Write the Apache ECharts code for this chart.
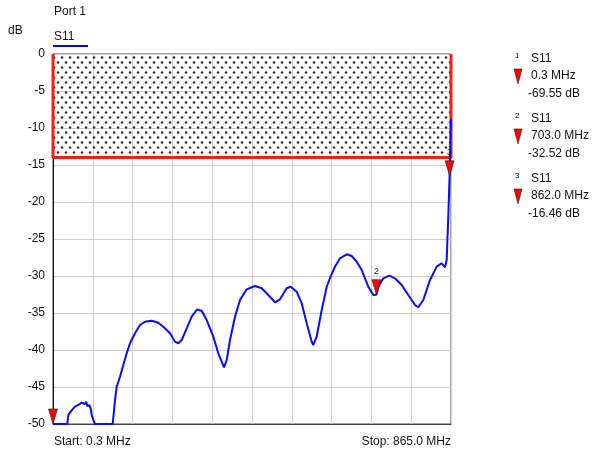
<!DOCTYPE html>
<html>
<head>
<meta charset="utf-8">
<script src="https://cdn.jsdelivr.net/npm/echarts@6/dist/echarts.min.js"></script>
<style>
  html, body { margin: 0; padding: 0; background: #fff; }
  #chart { width: 594px; height: 457px; }
</style>
</head>
<body>
<div id="chart"></div>
<script>
// sweep S11 trace, frequency in MHz / return loss in dB (display clamps at -50)
var traceFreq = [0.3, 31.4, 33.5, 37.2, 41.6, 44.5, 48.1, 51.0, 55.3, 58.5, 62.7, 66.0, 69.8, 72.5, 74.8, 79.2, 82.2, 84.4, 87.9, 91.5,
  130.0, 135.0, 138.7, 145.9, 153.0, 160.4, 167.6, 178.5, 189.3, 200.2, 214.7, 229.1, 243.6, 254.5, 265.4, 272.5, 279.9, 290.8, 301.6,
  313.1, 323.4, 334.2, 348.6, 359.4, 366.8, 371.8, 377.7, 384.9, 395.7, 406.6, 421.1, 439.2, 453.7, 468.1, 482.6, 493.5, 508.0, 516.7,
  529.8, 540.6, 551.5, 562.4, 565.8, 573.2, 584.1, 595.0, 602.1, 613.0, 623.8, 638.4, 649.3, 660.1, 671.0, 678.1, 685.3, 696.2, 703.0,
  707.4, 718.0, 731.0, 743.3, 757.9, 772.2, 786.8, 794.0, 804.8, 819.4, 833.9, 844.8, 852.0, 855.6, 859.1, 862.0, 865.0];
var traceDb = [-50, -50, -48.8, -48.55, -48.1, -48.3, -47.66, -47.8, -47.43, -47.6, -47.12, -47.3, -47.3, -47.0, -47.57, -47.47, -47.88, -48.78, -49.46, -50,
  -50, -46.76, -44.96, -43.61, -42.03, -40.45, -39.09, -37.74, -36.62, -36.18, -36.04, -36.31, -37.07, -37.74, -38.88, -39.09, -38.65, -37.07, -35.5,
  -34.53, -34.69, -35.95, -38.2, -40.45, -41.58, -42.34, -41.35, -38.65, -35.5, -33.24, -31.8, -31.35, -31.66, -32.57, -33.55, -33.15, -31.66, -31.45,
  -32.12, -33.69, -36.39, -38.88, -39.32, -38.2, -34.59, -31.45, -30.27, -28.74, -27.61, -27.07, -27.3, -28.07, -29.19, -30.31, -31.45, -32.57, -32.52,
  -31.45, -30.31, -29.96, -30.31, -31.22, -32.57, -33.92, -34.23, -33.24, -30.54, -28.74, -28.28, -28.82, -27.84, -21.99, -16.46, -8.78];

// limit line (upper limit -14 dB over the whole span)
var limitFreq = [0.3, 0.3, 865.0, 865.0];
var limitDb = [0, -14, -14, 0];

// markers
var markerNo = ['1', '2', '3'];
var markerFreq = [0.3, 703.0, 862.0];
var markerDb = [-69.55, -32.52, -16.46];
var markerFreqText = ['0.3 MHz', '703.0 MHz', '862.0 MHz'];
var markerDbText = ['-69.55 dB', '-32.52 dB', '-16.46 dB'];

var yTicks = [0, -5, -10, -15, -20, -25, -30, -35, -40, -45, -50];
var startFreq = 0.3, stopFreq = 865.0;

var FONT = '"Liberation Sans", Arial, sans-serif';

// dotted fill for the limit area
var pat = document.createElement('canvas');
pat.width = 8; pat.height = 10;
var pc = pat.getContext('2d');
pc.fillStyle = '#2a2a2a';
pc.beginPath(); pc.arc(2, 2.5, 1.25, 0, Math.PI * 2); pc.fill();
pc.beginPath(); pc.arc(6, 7.5, 1.25, 0, Math.PI * 2); pc.fill();

var chart = echarts.init(document.getElementById('chart'), null, { renderer: 'canvas' });

var trace = traceFreq.map(function (f, i) { return [f, traceDb[i]]; });
var limit = limitFreq.map(function (f, i) { return [f, limitDb[i]]; });
var markers = markerFreq.map(function (f, i) { return [f, Math.max(markerDb[i], -50), markerNo[i]]; });

var graphics = [
  { type: 'text', left: 54, top: 6, style: { text: 'Port 1', font: '12px ' + FONT, fill: '#111' } },
  { type: 'text', left: 8, top: 25, style: { text: 'dB', font: '12px ' + FONT, fill: '#111' } },
  { type: 'text', left: 54, top: 31, style: { text: 'S11', font: '12px ' + FONT, fill: '#111' } },
  { type: 'rect', shape: { x: 53, y: 45, width: 35, height: 2 }, style: { fill: '#0000ff' } },
  { type: 'text', left: 54, top: 436, style: { text: 'Start: ' + startFreq.toFixed(1) + ' MHz', font: '12px ' + FONT, fill: '#111' } },
  { type: 'text', right: 143, top: 436, style: { text: 'Stop: ' + stopFreq.toFixed(1) + ' MHz', font: '12px ' + FONT, fill: '#111', align: 'right' } }
];

markerNo.forEach(function (n, i) {
  var y0 = 53 + 60 * i;
  graphics.push({ type: 'text', left: 515, top: y0 - 1, style: { text: n, font: '8px ' + FONT, fill: '#111' } });
  graphics.push({ type: 'text', left: 531, top: y0, style: { text: 'S11', font: '12px ' + FONT, fill: '#111' } });
  graphics.push({ type: 'polygon', shape: { points: [[514, y0 + 16], [522, y0 + 16], [518, y0 + 31]] },
    style: { fill: '#ff0000', stroke: '#222', lineWidth: 0.6 } });
  graphics.push({ type: 'text', left: 531, top: y0 + 17, style: { text: markerFreqText[i], font: '12px ' + FONT, fill: '#111' } });
  graphics.push({ type: 'text', left: 528, top: y0 + 35, style: { text: markerDbText[i], font: '12px ' + FONT, fill: '#111' } });
});

chart.setOption({
  animation: false,
  backgroundColor: '#fff',
  grid: { left: 53, right: 143, top: 54, bottom: 33, show: true, borderColor: '#444', borderWidth: 1 },
  xAxis: {
    type: 'value', min: startFreq, max: stopFreq, interval: (stopFreq - startFreq) / 10,
    axisLine: { show: true, onZero: false, lineStyle: { color: '#444' } },
    axisTick: { show: false }, axisLabel: { show: false },
    splitLine: { show: true, lineStyle: { color: '#cfcfcf', width: 1 } }
  },
  yAxis: {
    type: 'value', min: -50, max: 0, interval: 5,
    axisLine: { show: true, onZero: false, lineStyle: { color: '#111' } },
    axisTick: { show: false },
    axisLabel: { color: '#111', fontSize: 12, fontFamily: FONT, margin: 8,
      formatter: function (v) { return yTicks.indexOf(v) >= 0 ? String(v) : ''; } },
    splitLine: { show: true, lineStyle: { color: '#cfcfcf', width: 1 } }
  },
  graphic: graphics,
  series: [
    {
      type: 'line', data: limit, symbol: 'none', clip: false, z: 3,
      lineStyle: { color: '#ff1a1a', width: 3 },
      markArea: {
        silent: true,
        itemStyle: { color: { image: pat, repeat: 'repeat' } },
        data: [[{ coord: [startFreq, 0] }, { coord: [stopFreq, -14] }]]
      }
    },
    {
      type: 'line', data: trace, symbol: 'none', z: 4,
      lineStyle: { color: '#0a0aff', width: 2 }
    },
    {
      type: 'scatter', data: markers, clip: false, z: 6,
      symbol: 'path://M0,0 L10,0 L5,18 Z', symbolSize: [9, 15], symbolOffset: [0, '-50%'],
      itemStyle: { color: '#ff0000', borderColor: '#222', borderWidth: 0.6, opacity: 1 },
      label: {
        show: true, position: 'top', distance: 3, color: '#222', fontSize: 9, fontFamily: FONT,
        formatter: function (p) { return p.data[2] === '1' ? '' : p.data[2]; }
      }
    }
  ]
});
</script>
</body>
</html>
